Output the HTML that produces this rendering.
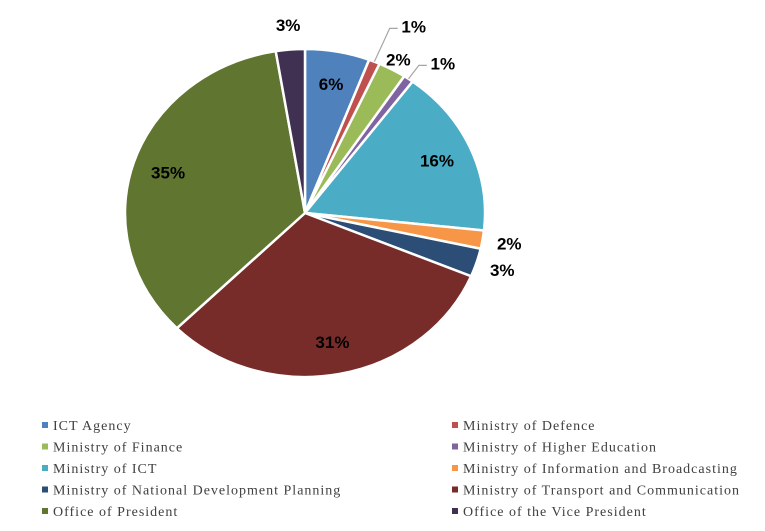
<!DOCTYPE html>
<html><head><meta charset="utf-8"><style>
body{margin:0;background:#fff;width:765px;height:531px;overflow:hidden}
svg{display:block}
.lbl{font-family:"Liberation Sans",sans-serif;font-weight:bold;font-size:17px;fill:#000}
.leg{font-family:"Liberation Serif",serif;font-size:14px;letter-spacing:1px;fill:#404040}
</style></head><body>
<svg id="chart" width="765" height="531"></svg>
<script>
const categories=["ICT Agency","Ministry of Defence","Ministry of Finance","Ministry of Higher Education","Ministry of ICT","Ministry of Information and Broadcasting","Ministry of National Development Planning","Ministry of Transport and Communication","Office of President","Office of the Vice President"];
const values=[5.8,1.0,2.5,0.9,16.5,1.8,2.8,31.3,34.8,2.6];
const labels=["6%","1%","2%","1%","16%","2%","3%","31%","35%","3%"];
const colors=["#4f81bd","#c0504d","#9bbb59","#8064a2","#4bacc6","#f79646","#2c4d75","#772c2a","#5f7530","#403152"];
const NS="http://www.w3.org/2000/svg";
const svg=document.getElementById('chart');
const cx=305,cy=213,rx=180,ry=164;
function pt(a,f){return [cx+rx*f*Math.sin(a),cy-ry*f*Math.cos(a)];}
const total=values.reduce((a,b)=>a+b,0);
let cum=0;
values.forEach((v,i)=>{
  const a0=cum/total*2*Math.PI; cum+=v; const a1=cum/total*2*Math.PI;
  const p0=pt(a0,1),p1=pt(a1,1);
  const large=(a1-a0)>Math.PI?1:0;
  const path=document.createElementNS(NS,'path');
  path.setAttribute('d',`M${cx},${cy}L${p0[0]},${p0[1]}A${rx},${ry} 0 ${large} 1 ${p1[0]},${p1[1]}Z`);
  path.setAttribute('fill',colors[i]);path.setAttribute('stroke','#fff');path.setAttribute('stroke-width','2.5');
  
  
  svg.appendChild(path);
  const am=(a0+a1)/2;
  const pct=v/total;
  let lp;
  if(pct>0.05){lp=pt(am,0.8);}
  else if(i===1||i===3){
    const e=pt(am,1.0), k=pt(am,i===1?1.22:1.1);
    const line=document.createElementNS(NS,'polyline');
    line.setAttribute('points',`${e[0]},${e[1]} ${k[0]},${k[1]} ${k[0]+8},${k[1]}`);
    line.setAttribute('fill','none');line.setAttribute('stroke','#a6a6a6');line.setAttribute('stroke-width','1.2');
    
    
    svg.appendChild(line);
    lp=[k[0]+24,k[1]-2];
  } else if(i===2){lp=pt(am,1.07);}
  else {lp=pt(am,1.15);}
  const t=document.createElementNS(NS,'text');
  t.setAttribute('x',lp[0]);t.setAttribute('y',lp[1]+6);t.setAttribute('text-anchor','middle');t.setAttribute('class','lbl');
  t.textContent=labels[i];
  
  
  svg.appendChild(t);
});
categories.forEach((c,i)=>{
  const col=i%2,row=Math.floor(i/2);
  const x=col?452:42,y=426+row*21.5;
  const g=document.createElementNS(NS,'g');
  
  
  const r=document.createElementNS(NS,'rect');
  r.setAttribute('x',x);r.setAttribute('y',y-4);r.setAttribute('width',6);r.setAttribute('height',6);r.setAttribute('fill',colors[i]);
  const t=document.createElementNS(NS,'text');
  t.setAttribute('x',x+11);t.setAttribute('y',y+4);t.setAttribute('class','leg');t.textContent=c;
  g.appendChild(r);g.appendChild(t);svg.appendChild(g);
});
</script>
</body></html>
